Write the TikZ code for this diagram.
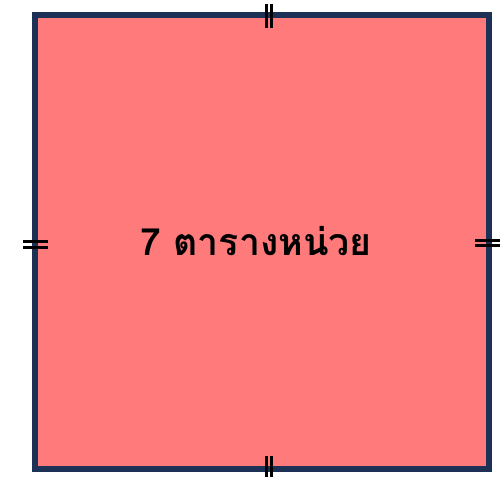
\documentclass[tikz,border=0pt]{standalone}
\usepackage{fontspec}
\newfontfamily\thaifont[Script=Thai]{Loma}
\definecolor{sqfill}{HTML}{FF7B7B}
\definecolor{sqline}{HTML}{1D3055}
\begin{document}
\begin{tikzpicture}[x=1pt,y=1pt,
  sq/.style={fill=sqfill,draw=sqline,line width=6pt,outer sep=0pt},
  tick/.style={draw=black,line width=3pt},
  lbl/.style={font=\thaifont\bfseries\fontsize{37.5}{44}\selectfont,text=black}]
\useasboundingbox (0,0) rectangle (500,476);
\node[sq,minimum width=454pt,minimum height=454pt,inner sep=0pt,anchor=north west] (s) at (35,461) {};
\node[lbl] (t) at (256,235) {7 ตารางหน่วย};
% top ticks
\coordinate (ta) at (266,472); \coordinate (tb) at (266,448);
\coordinate (tc) at (271.5,472); \coordinate (td) at (271.5,448);
\draw[tick] (ta) -- (tb); \draw[tick] (tc) -- (td);
% bottom ticks
\coordinate (ba) at (266,20); \coordinate (bb) at (266,-4);
\coordinate (bc) at (271.5,20); \coordinate (bd) at (271.5,-4);
\draw[tick] (ba) -- (bb); \draw[tick] (bc) -- (bd);
% left ticks
\coordinate (la) at (23,234); \coordinate (lb) at (48,234);
\coordinate (lc) at (23,228.5); \coordinate (ld) at (48,228.5);
\draw[tick] (la) -- (lb); \draw[tick] (lc) -- (ld);
% right ticks
\coordinate (ra) at (475,235.5); \coordinate (rb) at (500,235.5);
\coordinate (rc) at (475,230); \coordinate (rd) at (500,230);
\draw[tick] (ra) -- (rb); \draw[tick] (rc) -- (rd);
\end{tikzpicture}
\end{document}
